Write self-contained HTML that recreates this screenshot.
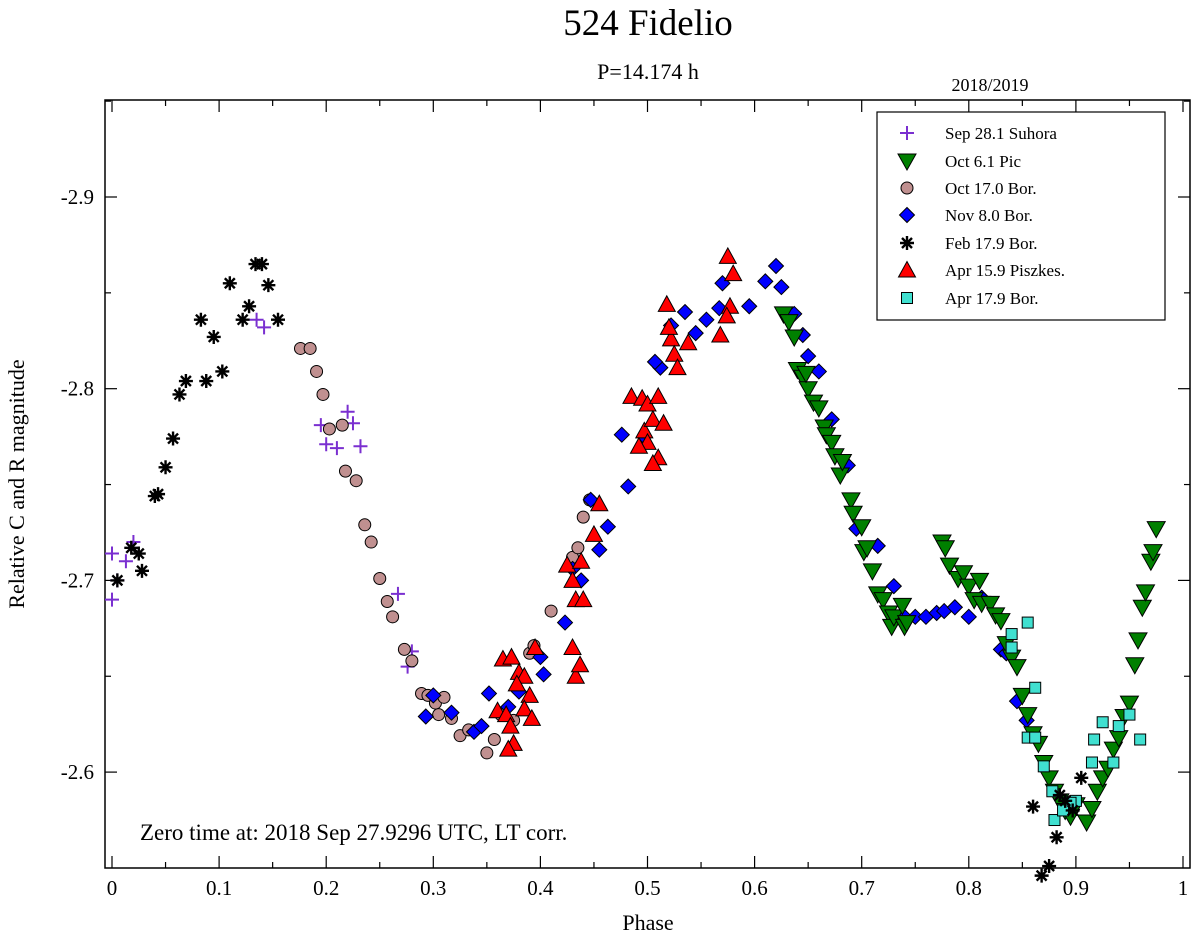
<!DOCTYPE html>
<html><head><meta charset="utf-8"><style>
body{margin:0;background:#fff}
svg text{font-family:"Liberation Serif",serif}
</style></head><body>
<svg id="chart" width="1200" height="937" viewBox="0 0 1200 937">
<text x="648" y="35" font-size="37" text-anchor="middle">524 Fidelio</text>
<text x="648" y="79" font-size="22" text-anchor="middle">P=14.174 h</text>
<text x="990" y="91" font-size="18" text-anchor="middle">2018/2019</text>
<rect x="105" y="100" width="1085" height="768" fill="none" stroke="#000" stroke-width="1.5"/>
<g id="axes"></g>
<g id="marks"></g>
<text x="140" y="840" font-size="23">Zero time at: 2018 Sep 27.9296 UTC, LT corr.</text>
<text x="648" y="930" font-size="22" text-anchor="middle">Phase</text>
<text x="24" y="484" font-size="22" text-anchor="middle" transform="rotate(-90 24 484)">Relative C and R magnitude</text>
<g>
<rect x="877" y="112" width="288" height="208" fill="#fff" stroke="#000" stroke-width="1.2"/>
<g id="legend"></g>
</g>
</svg>
<script>
const xTicks=[0,0.1,0.2,0.3,0.4,0.5,0.6,0.7,0.8,0.9,1];
const xTickLabels=["0","0.1","0.2","0.3","0.4","0.5","0.6","0.7","0.8","0.9","1"];
const yTicks=[-2.9,-2.8,-2.7,-2.6];
const yTickLabels=["-2.9","-2.8","-2.7","-2.6"];
const seriesNames=["Sep 28.1 Suhora","Oct 6.1 Pic","Oct 17.0 Bor.","Nov 8.0 Bor.","Feb 17.9 Bor.","Apr 15.9 Piszkes.","Apr 17.9 Bor."];
const sepPhase=[0,0,0.013,0.02,0.005,0.135,0.142,0.195,0.21,0.2,0.22,0.225,0.232,0.267,0.28,0.276];
const sepMag=[-2.714,-2.690,-2.710,-2.720,-2.700,-2.836,-2.832,-2.781,-2.769,-2.771,-2.788,-2.782,-2.770,-2.693,-2.663,-2.655];
const febPhase=[0.005,0.018,0.025,0.028,0.04,0.043,0.05,0.057,0.063,0.069,0.083,0.088,0.095,0.103,0.11,0.122,0.128,0.134,0.14,0.146,0.155,0.86,0.868,0.875,0.882,0.885,0.89,0.897,0.905];
const febMag=[-2.700,-2.717,-2.714,-2.705,-2.744,-2.745,-2.759,-2.774,-2.797,-2.804,-2.836,-2.804,-2.827,-2.809,-2.855,-2.836,-2.843,-2.865,-2.865,-2.854,-2.836,-2.582,-2.546,-2.551,-2.566,-2.588,-2.585,-2.580,-2.597];
const octPhase=[0.176,0.185,0.191,0.197,0.203,0.215,0.218,0.228,0.236,0.242,0.25,0.257,0.262,0.273,0.28,0.289,0.295,0.302,0.31,0.305,0.317,0.325,0.333,0.35,0.357,0.363,0.39,0.394,0.375,0.41,0.43,0.435,0.44,0.446];
const octMag=[-2.821,-2.821,-2.809,-2.797,-2.779,-2.781,-2.757,-2.752,-2.729,-2.720,-2.701,-2.689,-2.681,-2.664,-2.658,-2.641,-2.640,-2.636,-2.639,-2.630,-2.628,-2.619,-2.622,-2.610,-2.617,-2.630,-2.662,-2.666,-2.627,-2.684,-2.712,-2.717,-2.733,-2.742];
const picPhase=[0.627,0.632,0.637,0.64,0.645,0.65,0.648,0.655,0.66,0.665,0.667,0.672,0.675,0.68,0.682,0.69,0.692,0.7,0.702,0.705,0.71,0.715,0.72,0.725,0.728,0.73,0.74,0.738,0.742,0.775,0.778,0.782,0.79,0.795,0.8,0.805,0.81,0.812,0.82,0.825,0.83,0.835,0.84,0.845,0.85,0.855,0.86,0.865,0.87,0.875,0.88,0.885,0.89,0.895,0.9,0.91,0.915,0.92,0.925,0.93,0.935,0.94,0.945,0.95,0.955,0.958,0.962,0.965,0.97,0.972,0.975];
const picMag=[-2.839,-2.835,-2.827,-2.810,-2.806,-2.800,-2.808,-2.793,-2.790,-2.780,-2.776,-2.772,-2.765,-2.755,-2.762,-2.742,-2.735,-2.728,-2.715,-2.717,-2.705,-2.693,-2.690,-2.683,-2.676,-2.681,-2.676,-2.687,-2.678,-2.720,-2.717,-2.708,-2.701,-2.704,-2.697,-2.690,-2.700,-2.688,-2.688,-2.682,-2.679,-2.667,-2.660,-2.655,-2.640,-2.630,-2.620,-2.615,-2.605,-2.597,-2.590,-2.585,-2.580,-2.577,-2.583,-2.574,-2.581,-2.590,-2.597,-2.602,-2.612,-2.618,-2.629,-2.636,-2.656,-2.669,-2.686,-2.694,-2.710,-2.715,-2.727];
const novPhase=[0.293,0.3,0.317,0.338,0.345,0.352,0.37,0.38,0.4,0.403,0.423,0.43,0.438,0.447,0.455,0.463,0.482,0.476,0.497,0.512,0.507,0.522,0.535,0.545,0.555,0.57,0.567,0.595,0.61,0.62,0.625,0.637,0.645,0.65,0.66,0.672,0.687,0.695,0.715,0.73,0.74,0.75,0.76,0.77,0.777,0.787,0.8,0.812,0.83,0.835,0.845,0.854];
const novMag=[-2.629,-2.640,-2.631,-2.621,-2.624,-2.641,-2.634,-2.642,-2.660,-2.651,-2.678,-2.706,-2.700,-2.742,-2.716,-2.728,-2.749,-2.776,-2.775,-2.811,-2.814,-2.833,-2.840,-2.829,-2.836,-2.855,-2.842,-2.843,-2.856,-2.864,-2.853,-2.839,-2.828,-2.817,-2.809,-2.784,-2.760,-2.727,-2.718,-2.697,-2.681,-2.681,-2.681,-2.683,-2.684,-2.686,-2.681,-2.691,-2.664,-2.662,-2.637,-2.627];
const aprPhase=[0.365,0.373,0.38,0.385,0.378,0.395,0.39,0.36,0.368,0.372,0.385,0.392,0.375,0.37,0.43,0.425,0.433,0.44,0.438,0.45,0.455,0.43,0.433,0.437,0.485,0.495,0.5,0.51,0.497,0.505,0.515,0.51,0.5,0.492,0.518,0.522,0.525,0.52,0.538,0.528,0.575,0.58,0.577,0.574,0.568,0.505];
const aprMag=[-2.659,-2.660,-2.652,-2.650,-2.646,-2.665,-2.640,-2.632,-2.630,-2.624,-2.633,-2.628,-2.615,-2.612,-2.700,-2.708,-2.690,-2.690,-2.710,-2.724,-2.740,-2.665,-2.650,-2.656,-2.796,-2.795,-2.792,-2.796,-2.778,-2.784,-2.782,-2.764,-2.772,-2.770,-2.844,-2.826,-2.818,-2.832,-2.824,-2.811,-2.869,-2.860,-2.843,-2.838,-2.828,-2.761];
const apr17Phase=[0.84,0.855,0.84,0.862,0.855,0.862,0.87,0.9,0.895,0.915,0.917,0.925,0.935,0.94,0.95,0.96,0.88,0.888,0.878];
const apr17Mag=[-2.672,-2.678,-2.665,-2.644,-2.618,-2.618,-2.603,-2.585,-2.584,-2.605,-2.617,-2.626,-2.605,-2.624,-2.630,-2.617,-2.575,-2.580,-2.590];

const NS="http://www.w3.org/2000/svg";
const X0=105,X1=1190,Y0=100,Y1=868;
function xs(p){return 112+p*1071;}
function ys(m){return 197+(m+2.9)*1917;}
function mk(tag,attrs,parent){const e=document.createElementNS(NS,tag);for(const k in attrs)e.setAttribute(k,attrs[k]);parent.appendChild(e);return e;}
const axes=document.getElementById('axes');
for(let i=0;i<=20;i++){const p=i*0.05,x=xs(p),L=i%2?6:12;
 const t=mk('line',{x1:x,x2:x,y1:Y1,y2:Y1-L,stroke:'#000','stroke-width':1.2},axes);
 
 
 const t2=mk('line',{x1:x,x2:x,y1:Y0,y2:Y0+L,stroke:'#000','stroke-width':1.2},axes);
 
 }
xTicks.forEach((v,i)=>{const t=mk('text',{x:xs(v),y:895,'font-size':21,'text-anchor':'middle'},axes);t.textContent=xTickLabels[i];
 
 });
for(let i=-1;i<=7;i++){const m=-2.95+i*0.05;const y=ys(m);if(y<Y0||y>Y1)continue;const L=(Math.round(m*100)%10===0)?12:6;
 const t=mk('line',{x1:X0,x2:X0+L,y1:y,y2:y,stroke:'#000','stroke-width':1.2},axes);
 
 
 const t2=mk('line',{x1:X1,x2:X1-L,y1:y,y2:y,stroke:'#000','stroke-width':1.2},axes);
 
 }
yTicks.forEach((v,i)=>{const t=mk('text',{x:94,y:ys(v)+7,'font-size':21,'text-anchor':'end'},axes);t.textContent=yTickLabels[i];
 
 });

function sym(kind,x,y,g){
 if(kind==='plus'){mk('path',{d:`M${x-7} ${y}H${x+7}M${x} ${y-7}V${y+7}`,stroke:'#7a2fd0','stroke-width':2,fill:'none'},g);}
 else if(kind==='down'){mk('path',{d:`M${x-9} ${y-7}L${x+9} ${y-7}L${x} ${y+9}Z`,fill:'#008000',stroke:'#000','stroke-width':1},g);}
 else if(kind==='circle'){mk('circle',{cx:x,cy:y,r:6,fill:'#c09090',stroke:'#000','stroke-width':1},g);}
 else if(kind==='diamond'){mk('path',{d:`M${x} ${y-7.5}L${x+7.5} ${y}L${x} ${y+7.5}L${x-7.5} ${y}Z`,fill:'#0000ff',stroke:'#000','stroke-width':1},g);}
 else if(kind==='star'){mk('path',{d:`M${x-7} ${y}H${x+7}M${x} ${y-7}V${y+7}M${x-5} ${y-5}L${x+5} ${y+5}M${x-5} ${y+5}L${x+5} ${y-5}`,stroke:'#000','stroke-width':2.4,fill:'none'},g);}
 else if(kind==='up'){mk('path',{d:`M${x-8.5} ${y+7}L${x+8.5} ${y+7}L${x} ${y-8.5}Z`,fill:'#ff0000',stroke:'#000','stroke-width':1},g);}
 else if(kind==='square'){mk('rect',{x:x-5.5,y:y-5.5,width:11,height:11,fill:'#40e0d0',stroke:'#000','stroke-width':1},g);}
}
const marks=document.getElementById('marks');
const series=[['plus',sepPhase,sepMag,'series-sep-28-suhora'],['circle',octPhase,octMag,'series-oct-17-bor'],['diamond',novPhase,novMag,'series-nov-8-bor'],['up',aprPhase,aprMag,'series-apr-15-piszkes'],['down',picPhase,picMag,'series-oct-6-pic'],['square',apr17Phase,apr17Mag,'series-apr-17-bor'],['star',febPhase,febMag,'series-feb-17-bor']];
series.forEach(s=>{const g=mk('g',{},marks);
 
 
 s[1].forEach((p,i)=>sym(s[0],xs(p),ys(s[2][i]),g));});
const kinds=['plus','down','circle','diamond','star','up','square'];
const lg=document.getElementById('legend');
const ly=[133,161,188,215,243,270,298];
seriesNames.forEach((n,i)=>{const g=mk('g',{},lg);
 
 
 sym(kinds[i],907,ly[i],g);
 const t=mk('text',{x:945,y:ly[i]+6,'font-size':17},g);t.textContent=n;});
</script>
</body></html>
